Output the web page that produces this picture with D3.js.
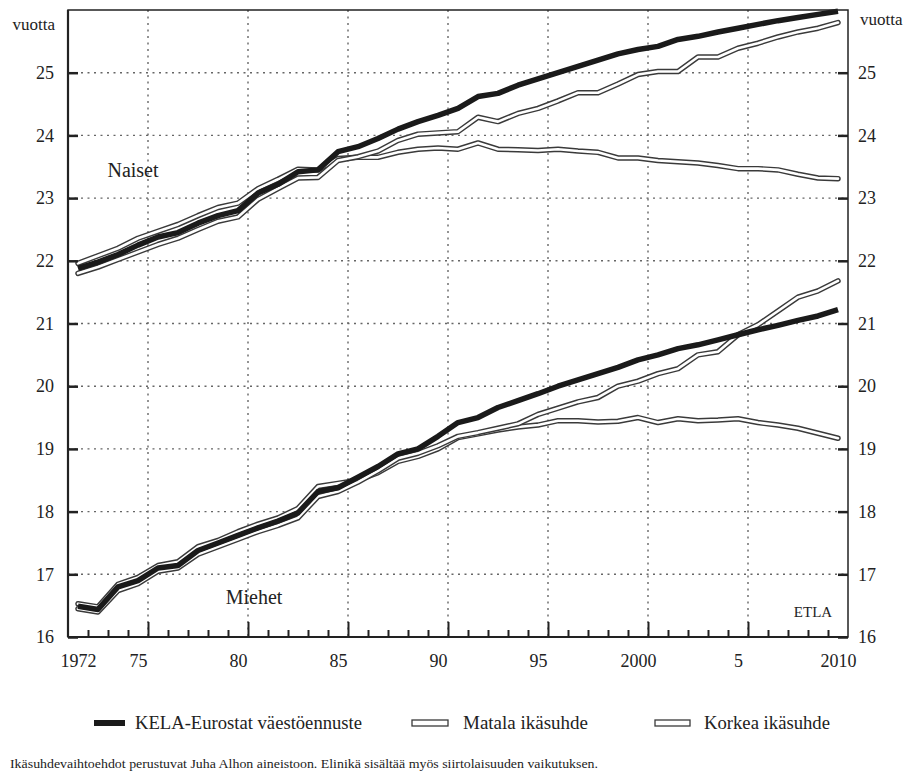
<!DOCTYPE html>
<html>
<head>
<meta charset="utf-8">
<script src="https://cdn.jsdelivr.net/npm/d3@7"></script>
<style>
  html, body { margin: 0; padding: 0; background: #fff; }
  svg { display: block; }
  svg text { font-family: "Liberation Serif", Tinos, "Times New Roman", Times, "DejaVu Serif", serif !important; }
  .axis path.domain { display: none; }
</style>
</head>
<body>
<svg id="chart" width="906" height="774"></svg>
<script>
// ---- data ----
const years = d3.range(1972, 2011);
const naisetKela = [21.88,21.98,22.10,22.25,22.38,22.45,22.60,22.72,22.80,23.08,23.22,23.42,23.45,23.74,23.82,23.95,24.10,24.22,24.32,24.43,24.62,24.67,24.80,24.90,25.00,25.10,25.20,25.30,25.37,25.42,25.53,25.58,25.65,25.71,25.77,25.83,25.88,25.93,25.98];
const naisetMatala = [21.80,21.90,22.02,22.14,22.26,22.36,22.50,22.63,22.70,22.98,23.15,23.32,23.33,23.60,23.66,23.75,23.92,24.02,24.04,24.06,24.29,24.22,24.35,24.43,24.55,24.68,24.68,24.82,24.97,25.02,25.02,25.25,25.25,25.39,25.47,25.57,25.65,25.71,25.80];
const naisetKorkea = [21.96,22.08,22.20,22.36,22.47,22.58,22.72,22.85,22.92,23.15,23.30,23.46,23.45,23.63,23.65,23.65,23.73,23.78,23.80,23.78,23.88,23.78,23.77,23.76,23.78,23.75,23.73,23.64,23.64,23.60,23.58,23.56,23.52,23.47,23.47,23.45,23.38,23.32,23.31];
const miehetKela = [16.49,16.44,16.80,16.90,17.10,17.14,17.38,17.50,17.62,17.74,17.85,17.98,18.32,18.38,18.55,18.72,18.92,19.00,19.20,19.42,19.50,19.66,19.77,19.88,20.00,20.10,20.20,20.30,20.42,20.50,20.60,20.66,20.74,20.82,20.90,20.97,21.05,21.12,21.22];
const miehetMatala = [16.45,16.40,16.74,16.85,17.05,17.10,17.32,17.44,17.56,17.68,17.78,17.90,18.24,18.32,18.47,18.65,18.85,18.93,19.05,19.20,19.26,19.33,19.40,19.55,19.65,19.75,19.82,20.00,20.08,20.20,20.28,20.50,20.55,20.82,20.98,21.20,21.42,21.52,21.68];
const miehetKorkea = [16.53,16.48,16.84,16.95,17.14,17.20,17.44,17.54,17.68,17.80,17.90,18.05,18.40,18.45,18.50,18.62,18.80,18.88,19.00,19.18,19.24,19.30,19.35,19.38,19.45,19.45,19.43,19.44,19.50,19.42,19.48,19.45,19.46,19.48,19.42,19.38,19.33,19.25,19.17];

const yTicks = [16,17,18,19,20,21,22,23,24,25];
const xLabelYears = [1972,1975,1980,1985,1990,1995,2000,2005,2010];
const xLabelTexts = ["1972","75","80","85","90","95","2000","5","2010"];
const unitLabel = "vuotta";
const seriesNames = ["KELA-Eurostat väestöennuste","Matala ikäsuhde","Korkea ikäsuhde"];
const groupLabels = ["Naiset","Miehet"];
const sourceLabel = "ETLA";
const footnote = "Ikäsuhdevaihtoehdot perustuvat Juha Alhon aineistoon. Elinikä sisältää myös siirtolaisuuden vaikutuksen.";

// ---- layout ----
const L = 68, R = 848, T = 10, B = 637;
const svg = d3.select("#chart");
const x = d3.scaleLinear().domain([1971.5, 2010.5]).range([L, R]);
const y = d3.scaleLinear().domain([16, 26]).range([B, T]);
const ink = "#222";
const serif = "Liberation Serif";

// grid
const gridG = svg.append("g");
gridG.selectAll("line.h").data(yTicks.filter(d => d > 16)).join("line")
  .attr("x1", L).attr("x2", R).attr("y1", d => y(d)).attr("y2", d => y(d))
  .attr("stroke", "#666").attr("stroke-width", 1.4).attr("stroke-dasharray", "2,4.5");
const majorYears = [1975,1980,1985,1990,1995,2000,2005];
gridG.selectAll("line.v").data(majorYears).join("line")
  .attr("x1", d => x(d + 0.5)).attr("x2", d => x(d + 0.5)).attr("y1", T).attr("y2", B)
  .attr("stroke", "#666").attr("stroke-width", 1.4).attr("stroke-dasharray", "2,4.5");

// lines
const lineGen = d3.line().x((d, i) => x(years[i])).y(d => y(d));
function hollow(values) {
  svg.append("path").attr("d", lineGen(values)).attr("fill", "none")
    .attr("stroke", "#3a3a3a").attr("stroke-width", 5.5).attr("stroke-linejoin", "round").attr("stroke-linecap", "round");
  svg.append("path").attr("d", lineGen(values)).attr("fill", "none")
    .attr("stroke", "#fff").attr("stroke-width", 2.6).attr("stroke-linejoin", "round").attr("stroke-linecap", "round");
}
function thick(values) {
  svg.append("path").attr("d", lineGen(values)).attr("fill", "none")
    .attr("stroke", "#1a1a1a").attr("stroke-width", 5.5).attr("stroke-linejoin", "round");
}
hollow(naisetKorkea); hollow(naisetMatala); thick(naisetKela);
hollow(miehetKorkea); hollow(miehetMatala); thick(miehetKela);

// frame
svg.append("rect").attr("x", L).attr("y", T).attr("width", R - L).attr("height", B - T)
  .attr("fill", "none").attr("stroke", ink).attr("stroke-width", 1.5);
svg.append("line").attr("x1", L).attr("x2", L).attr("y1", T).attr("y2", B).attr("stroke", ink).attr("stroke-width", 2.2);
svg.append("line").attr("x1", L).attr("x2", R).attr("y1", B).attr("y2", B).attr("stroke", ink).attr("stroke-width", 2.2);

// bottom ticks
const minorTicks = d3.range(1972, 2010).filter(d => d % 5 !== 0).map(d => d + 0.5);
const majorTicks = majorYears.map(d => d + 0.5);
const styleTicks = g => { g.select(".domain").remove(); g.selectAll(".tick line").attr("stroke", ink).attr("stroke-width", 2); };
svg.append("g").attr("class", "axis").attr("transform", `translate(0,${B})`)
  .call(d3.axisBottom(x).tickValues(minorTicks).tickSize(-7).tickFormat(""))
  .call(styleTicks);
svg.append("g").attr("class", "axis").attr("transform", `translate(0,${B})`)
  .call(d3.axisBottom(x).tickValues(majorTicks).tickSize(-15).tickFormat(""))
  .call(styleTicks);
const xl = svg.append("g").attr("class", "axis").attr("transform", `translate(0,${B})`)
  .call(d3.axisBottom(x).tickValues(xLabelYears).tickSize(0).tickPadding(17)
    .tickFormat((d, i) => xLabelTexts[i]));
xl.attr("font-family", serif).attr("font-size", 18);
xl.select(".domain").remove();
xl.selectAll("text").attr("fill", ink);

// left / right axes
const yl = svg.append("g").attr("class", "axis").attr("transform", `translate(${L},0)`)
  .call(d3.axisLeft(y).tickValues(yTicks).tickSize(-10).tickPadding(14).tickFormat(d3.format("d")));
yl.attr("font-family", serif).attr("font-size", 18);
yl.select(".domain").remove();
yl.selectAll(".tick line").attr("stroke", ink).attr("stroke-width", 2.5);
yl.selectAll("text").attr("fill", ink);
const yr = svg.append("g").attr("class", "axis").attr("transform", `translate(${R},0)`)
  .call(d3.axisRight(y).tickValues(yTicks).tickSize(-10).tickPadding(10).tickFormat(d3.format("d")));
yr.attr("font-family", serif).attr("font-size", 18);
yr.select(".domain").remove();
yr.selectAll(".tick line").attr("stroke", ink).attr("stroke-width", 2.5);
yr.selectAll("text").attr("fill", ink);

// unit labels
svg.append("text").attr("x", 55).attr("y", 30).attr("text-anchor", "end")
  .attr("font-size", 17).attr("fill", ink).text(unitLabel);
svg.append("text").attr("x", 860).attr("y", 25).attr("text-anchor", "start")
  .attr("font-size", 17).attr("fill", ink).text(unitLabel);

// group labels
svg.append("text").attr("x", 133).attr("y", 177).attr("text-anchor", "middle")
  .attr("font-size", 20).attr("fill", ink).text(groupLabels[0]);
svg.append("text").attr("x", 254).attr("y", 604).attr("text-anchor", "middle")
  .attr("font-size", 20).attr("fill", ink).text(groupLabels[1]);
svg.append("text").attr("x", 813).attr("y", 617).attr("text-anchor", "middle")
  .attr("font-size", 15).attr("fill", ink).text(sourceLabel);

// legend
const legY = 723;
const leg = svg.append("g");
leg.append("line").attr("x1", 94).attr("x2", 125).attr("y1", legY).attr("y2", legY)
  .attr("stroke", "#1a1a1a").attr("stroke-width", 6);
leg.append("text").attr("x", 135).attr("y", legY + 6).attr("font-size", 18).attr("fill", ink)
  .attr("textLength", 227).attr("lengthAdjust", "spacingAndGlyphs").text(seriesNames[0]);
[[412, 448, 463, seriesNames[1], 125], [655, 690, 704, seriesNames[2], 126]].forEach(([a, b, t, name, w]) => {
  leg.append("rect").attr("x", a).attr("y", legY - 3).attr("width", b - a).attr("height", 6)
    .attr("fill", "#fff").attr("stroke", "#3a3a3a").attr("stroke-width", 1.3);
  leg.append("text").attr("x", t).attr("y", legY + 6).attr("font-size", 18).attr("fill", ink)
    .attr("textLength", w).attr("lengthAdjust", "spacingAndGlyphs").text(name);
});

// footnote
svg.append("text").attr("x", 10).attr("y", 768).attr("font-size", 13).attr("fill", ink)
  .attr("textLength", 588).attr("lengthAdjust", "spacingAndGlyphs").text(footnote);
</script>
</body>
</html>
